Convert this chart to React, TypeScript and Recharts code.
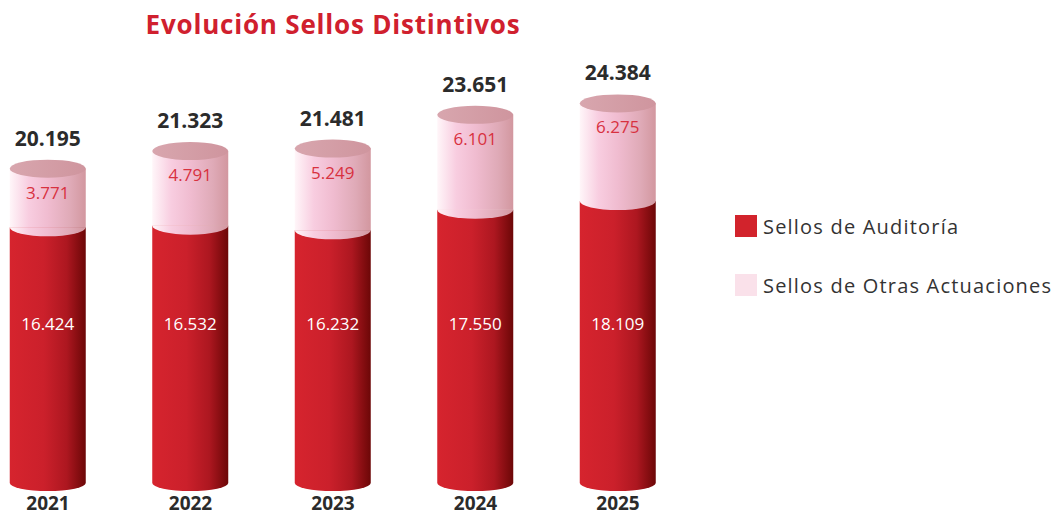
import React from "react";
import { BarChart, Bar, XAxis, YAxis, Legend, LabelList } from "recharts";

const years = ["2021", "2022", "2023", "2024", "2025"];
const auditoria = [16424, 16532, 16232, 17550, 18109];
const otras = [3771, 4791, 5249, 6101, 6275];
const totals = [20195, 21323, 21481, 23651, 24384];

const data = years.map((year, i) => ({
  idx: i,
  year,
  auditoria: auditoria[i],
  otras: otras[i],
  total: totals[i],
}));

const FONT = "'Open Sans', sans-serif";
const RY = 9; // ellipse radius for the cylinder caps

// spanish thousands separator
const fmt = (n: number) =>
  String(n).replace(/\B(?=(\d{3})+(?!\d))/g, ".");

const RedCylinder = (props: any) => {
  const { x, y, width, height } = props;
  if (x == null || height == null) return null;
  const b = y + height;
  return (
    <g>
      <rect x={x} y={y} width={width} height={height} fill="url(#redGrad)" />
      <path
        d={`M${x},${b} A${width / 2},${RY - 1} 0 0 0 ${x + width},${b} Z`}
        fill="url(#redGrad)"
      />
    </g>
  );
};

const PinkCylinder = (props: any) => {
  const { x, y, width, height } = props;
  if (x == null || height == null) return null;
  const b = y + height;
  return (
    <g>
      <rect x={x} y={y} width={width} height={height} fill="url(#pinkGrad)" />
      <path
        d={`M${x},${b} A${width / 2},${RY} 0 0 0 ${x + width},${b} Z`}
        fill="url(#pinkGrad)"
      />
      <ellipse
        cx={x + width / 2}
        cy={y}
        rx={width / 2}
        ry={RY}
        fill="url(#capGrad)"
      />
    </g>
  );
};

const YearTick = (props: any) => {
  const { x, payload } = props;
  return (
    <text
      x={x}
      y={510}
      textAnchor="middle"
      fontFamily={FONT}
      fontWeight={700}
      fontSize={19}
      fill="#2b2b2b"
    >
      {years[payload.value]}
    </text>
  );
};

const renderLegend = () => {
  const items = [
    { label: "Sellos de Auditoría", color: "#d2232c" },
    { label: "Sellos de Otras Actuaciones", color: "#fae1ea" },
  ];
  return (
    <div style={{ fontFamily: FONT }}>
      {items.map((it) => (
        <div
          key={it.label}
          style={{
            display: "flex",
            alignItems: "center",
            height: 22,
            marginBottom: 37,
          }}
        >
          <span
            style={{
              display: "inline-block",
              width: 22,
              height: 22,
              background: it.color,
              marginRight: 6,
            }}
          />
          <span
            style={{
              fontSize: 20,
              letterSpacing: 1.2,
              color: "#333",
              whiteSpace: "nowrap",
            }}
          >
            {it.label}
          </span>
        </div>
      ))}
    </div>
  );
};

export default function App() {
  return (
    <div
      style={{
        position: "fixed",
        left: 0,
        top: 0,
        width: 1060,
        height: 515,
        background: "#fff",
      }}
    >
      <div
        style={{
          position: "absolute",
          left: 0,
          width: 666,
          top: 6,
          textAlign: "center",
          fontFamily: FONT,
          fontWeight: 700,
          fontSize: 26,
          letterSpacing: 0.8,
          color: "#d0202e",
        }}
      >
        Evolución Sellos Distintivos
      </div>
      <BarChart
        width={1060}
        height={515}
        data={data}
        margin={{ top: 16, right: 380, bottom: 0, left: 10 }}
        style={{ position: "absolute", left: 0, top: 0 }}
      >
        <defs>
          <linearGradient id="redGrad" x1="0" y1="0" x2="1" y2="0">
            <stop offset="0%" stopColor="#d6242e" />
            <stop offset="45%" stopColor="#cb202b" />
            <stop offset="75%" stopColor="#ad1720" />
            <stop offset="100%" stopColor="#6c0707" />
          </linearGradient>
          <linearGradient id="pinkGrad" x1="0" y1="0" x2="1" y2="0">
            <stop offset="0%" stopColor="#fff6f9" />
            <stop offset="25%" stopColor="#f8cde0" />
            <stop offset="50%" stopColor="#f0bcd0" />
            <stop offset="80%" stopColor="#dfaab7" />
            <stop offset="100%" stopColor="#d2979f" />
          </linearGradient>
          <linearGradient id="capGrad" x1="0" y1="0" x2="1" y2="0">
            <stop offset="0%" stopColor="#d8a6ae" />
            <stop offset="100%" stopColor="#cf959e" />
          </linearGradient>
        </defs>
        <XAxis
          type="number"
          dataKey="idx"
          domain={[-38 / 142.5, -38 / 142.5 + 670 / 142.5]}
          ticks={[0, 1, 2, 3, 4]}
          interval={0}
          axisLine={false}
          tickLine={false}
          height={32}
          tick={<YearTick />}
        />
        <YAxis hide domain={[0, 30000]} />
        <Legend
          layout="vertical"
          align="center"
          verticalAlign="middle"
          content={renderLegend}
          wrapperStyle={{ left: 735, top: 215, width: 325 }}
        />
        <Bar
          dataKey="auditoria"
          stackId="s"
          barSize={76}
          shape={<RedCylinder />}
          isAnimationActive={false}
        >
          <LabelList
            dataKey="auditoria"
            content={(p: any) => (
              <text
                x={p.x + p.width / 2}
                y={p.y + p.height - 153}
                textAnchor="middle"
                fontFamily={FONT}
                fontSize={17}
                fill="#ffffff"
              >
                {fmt(p.value)}
              </text>
            )}
          />
        </Bar>
        <Bar
          dataKey="otras"
          stackId="s"
          barSize={76}
          shape={<PinkCylinder />}
          isAnimationActive={false}
        >
          <LabelList
            dataKey="otras"
            content={(p: any) => (
              <text
                x={p.x + p.width / 2}
                y={p.y + 30}
                textAnchor="middle"
                fontFamily={FONT}
                fontSize={17}
                fill="#d8313f"
              >
                {fmt(p.value)}
              </text>
            )}
          />
          <LabelList
            dataKey="total"
            content={(p: any) => (
              <text
                x={p.x + p.width / 2}
                y={p.y - 23}
                textAnchor="middle"
                fontFamily={FONT}
                fontWeight={700}
                fontSize={21}
                fill="#2b2b2b"
              >
                {fmt(p.value)}
              </text>
            )}
          />
        </Bar>
      </BarChart>
    </div>
  );
}
